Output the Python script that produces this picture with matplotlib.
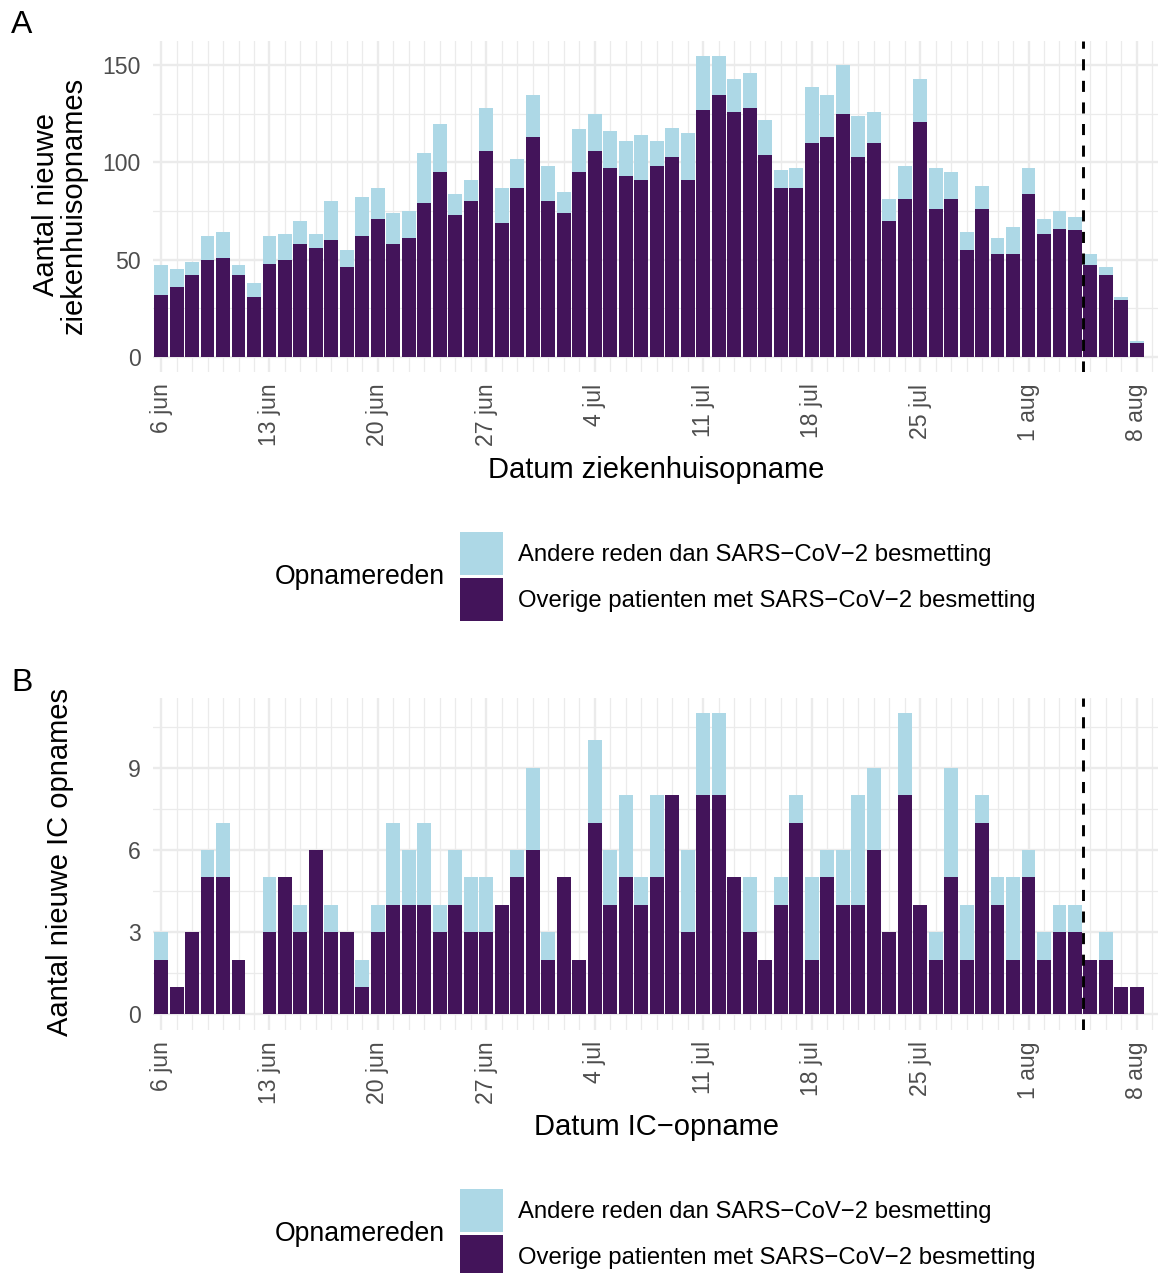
import matplotlib
matplotlib.use("Agg")
import matplotlib.pyplot as plt
import matplotlib.dates as mdates
from matplotlib.patches import Patch
from matplotlib.ticker import FixedLocator
import numpy as np
import pandas as pd

plt.rcParams['font.family'] = ['Liberation Sans', 'DejaVu Sans']

# ---------------- data ----------------
dates = pd.date_range('2022-06-06', '2022-08-08', freq='D')

# Panel A: nieuwe ziekenhuisopnames
zh_overige = [32, 36, 42, 50, 51, 42, 31, 48, 50, 58, 56, 60, 46, 62, 71, 58,
              61, 79, 95, 73, 80, 106, 69, 87, 113, 80, 74, 95, 106, 97, 93, 91,
              98, 103, 91, 127, 135, 126, 128, 104, 87, 87, 110, 113, 125, 103,
              110, 70, 81, 121, 76, 81, 55, 76, 53, 53, 84, 63, 66, 65, 47, 42,
              29, 7]
zh_totaal = [47, 45, 49, 62, 64, 47, 38, 62, 63, 70, 63, 80, 55, 82, 87, 74,
             75, 105, 120, 84, 91, 128, 87, 102, 135, 98, 85, 117, 125, 116, 111, 114,
             111, 118, 115, 155, 155, 143, 146, 122, 96, 97, 139, 135, 150, 124,
             126, 81, 98, 143, 97, 95, 64, 88, 61, 67, 97, 71, 75, 72, 53, 46,
             31, 8]

# Panel B: nieuwe IC opnames
ic_overige = [2, 1, 3, 5, 5, 2, 0, 3, 5, 3, 6, 3, 3, 1, 3, 4,
              4, 4, 3, 4, 3, 3, 4, 5, 6, 2, 5, 2, 7, 4, 5, 4,
              5, 8, 3, 8, 8, 5, 3, 2, 4, 7, 2, 5, 4, 4,
              6, 3, 8, 4, 2, 5, 2, 7, 4, 2, 5, 2, 3, 3, 2, 2,
              1, 1]
ic_totaal = [3, 1, 3, 6, 7, 2, 0, 5, 5, 4, 6, 4, 3, 2, 4, 7,
             6, 7, 4, 6, 5, 5, 4, 6, 9, 3, 5, 2, 10, 6, 8, 5,
             8, 8, 6, 11, 11, 5, 5, 2, 5, 8, 5, 6, 6, 8,
             9, 3, 11, 4, 3, 9, 4, 8, 5, 5, 6, 3, 4, 4, 2, 3,
             1, 1]

zh_andere = [t - o for t, o in zip(zh_totaal, zh_overige)]
ic_andere = [t - o for t, o in zip(ic_totaal, ic_overige)]

tick_dates = pd.date_range('2022-06-06', '2022-08-08', freq='7D')
tick_labels = ['6 jun', '13 jun', '20 jun', '27 jun', '4 jul', '11 jul',
               '18 jul', '25 jul', '1 aug', '8 aug']
minor_dates = pd.date_range('2022-06-06', '2022-08-09', freq='D')
cutoff = pd.Timestamp('2022-08-04 12:00')

legend_labels = ['Andere reden dan SARS\u2212CoV\u22122 besmetting',
                 'Overige patienten met SARS\u2212CoV\u22122 besmetting']
legend_title = 'Opnamereden'

# ---------------- style ----------------
C_LIGHT = '#ADD8E6'
C_DARK = '#43145A'
GRID = '#EBEBEB'
TICK_COL = '#4D4D4D'

W, H = 1159, 1273
fig = plt.figure(figsize=(W / 100, H / 100), dpi=100)


def fx(px):
    return px / W


def fy(py):
    return 1 - py / H


x0 = mdates.date2num(pd.Timestamp('2022-06-06'))
xnum = mdates.date2num(dates)


def setup_axes(top_px, bottom_px, ylim, ymajor, yminor):
    ax = fig.add_axes([fx(153), fy(bottom_px), fx(1158) - fx(153), fy(top_px) - fy(bottom_px)])
    ax.set_xlim(x0 - 0.52, x0 + 64.36)
    ax.set_ylim(*ylim)
    for s in ax.spines.values():
        s.set_visible(False)
    ax.xaxis.set_major_locator(FixedLocator(mdates.date2num(tick_dates)))
    ax.xaxis.set_minor_locator(FixedLocator(mdates.date2num(minor_dates)))
    ax.set_xticklabels(tick_labels, rotation=90, va='top', ha='center')
    ax.yaxis.set_major_locator(FixedLocator(ymajor))
    ax.yaxis.set_minor_locator(FixedLocator(yminor))
    ax.tick_params(which='both', length=0)
    ax.tick_params(axis='x', pad=8.5, labelsize=16.6, labelcolor=TICK_COL)
    ax.tick_params(axis='y', pad=9.0, labelsize=16.6, labelcolor=TICK_COL)
    ax.grid(which='major', color=GRID, linewidth=1.7)
    ax.grid(which='minor', color=GRID, linewidth=0.9)
    ax.set_axisbelow(True)
    return ax


def draw_bars(ax, overige, andere):
    ax.bar(xnum, overige, width=0.9, color=C_DARK, linewidth=0, zorder=2)
    ax.bar(xnum, andere, width=0.9, bottom=overige, color=C_LIGHT, linewidth=0, zorder=2)
    ax.axvline(mdates.date2num(cutoff), color='black', linewidth=2.1,
               linestyle=(0, (3.8, 3.6)), zorder=3)


def draw_legend(top_px, title_y_px):
    handles = [Patch(facecolor=C_LIGHT, edgecolor='none'),
               Patch(facecolor=C_DARK, edgecolor='none')]
    fig.legend(handles, legend_labels, loc='upper left',
               bbox_to_anchor=(fx(460), fy(top_px)), frameon=False,
               borderpad=0, borderaxespad=0, fontsize=17.2,
               handlelength=1.80, handleheight=2.392, labelspacing=0.126,
               handletextpad=0.628)
    fig.text(fx(275), fy(title_y_px), legend_title, fontsize=19.2, ha='left',
             va='center', color='black')


# Panel A
axA = setup_axes(40.6, 371.8, (-7.75, 162.75), [0, 50, 100, 150], [25, 75, 125])
draw_bars(axA, zh_overige, zh_andere)
fig.text(fx(60), fy(205), 'Aantal nieuwe\nziekenhuisopnames', rotation=90,
         fontsize=21, ha='center', va='center', linespacing=1.0)
fig.text(fx(656), fy(470), 'Datum ziekenhuisopname', fontsize=21, ha='center', va='center')
fig.text(fx(22), fy(25), 'A', fontsize=23, ha='center', va='center')
draw_legend(532, 577)

# Panel B
axB = setup_axes(698, 1029.5, (-0.55, 11.55), [0, 3, 6, 9], [1.5, 4.5, 7.5, 10.5])
draw_bars(axB, ic_overige, ic_andere)
fig.text(fx(60), fy(862), 'Aantal nieuwe IC opnames', rotation=90,
         fontsize=21, ha='center', va='center')
fig.text(fx(656), fy(1127), 'Datum IC\u2212opname', fontsize=21, ha='center', va='center')
fig.text(fx(22), fy(683), 'B', fontsize=23, ha='center', va='center')
draw_legend(1189, 1234)

fig.savefig('out.png', dpi=100)
